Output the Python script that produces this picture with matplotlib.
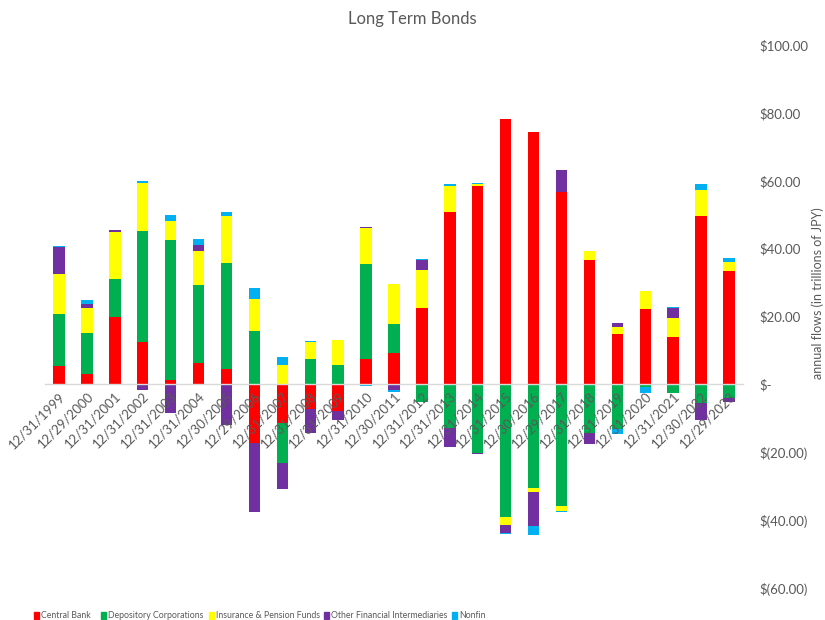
# Long Term Bonds - annual flows by holder (stacked bars)

import numpy as np
import matplotlib
matplotlib.use('Agg')
import matplotlib.pyplot as plt
from matplotlib.patches import Rectangle
from matplotlib.ticker import FuncFormatter, MultipleLocator

plt.rcParams['font.family'] = ['Lato', 'DejaVu Sans']

# Data
dates = ['12/31/1999', '12/29/2000', '12/31/2001', '12/31/2002', '12/31/2003',
         '12/31/2004', '12/30/2005', '12/29/2006', '12/31/2007', '12/31/2008',
         '12/31/2009', '12/31/2010', '12/30/2011', '12/31/2012', '12/31/2013',
         '12/31/2014', '12/31/2015', '12/30/2016', '12/29/2017', '12/31/2018',
         '12/31/2019', '12/31/2020', '12/31/2021', '12/30/2022', '12/29/2023']

central_bank = [5.3, 3.2, 19.8, 12.5, 1.2, 6.2, 4.6, -17.2, -11.4, -7.2, -7.7, 7.6, 9.2,
                22.6, 50.9, 58.6, 78.1, 74.4, 56.8, 36.6, 14.7, 22.2, 14.1, 49.6, 33.3]
depository = [15.3, 12.0, 11.3, 32.8, 41.2, 23.0, 31.2, 15.7, -11.7, 7.5, 5.7, 27.8, 8.5,
              -5.2, -13.0, -20.2, -39.1, -30.5, -35.9, -14.3, -13.2, -0.8, -2.6, -5.6, -4.1]
insurance = [12.0, 7.3, 13.8, 13.9, 5.8, 10.1, 13.7, 9.6, 5.7, 5.0, 7.3, 10.8, 12.0,
             11.0, 7.7, 0.5, -2.4, -1.2, -1.5, 2.8, 2.2, 5.4, 5.5, 7.8, 2.9]
other_fin = [7.9, 1.3, 0.7, -1.7, -8.5, 1.8, -12.0, -20.3, -7.8, -7.0, -2.7, 0.3, -1.7,
             3.1, -5.6, -0.3, -2.2, -10.1, 6.3, -3.4, 1.2, 0.0, 2.9, -4.8, -1.0]
nonfin = [0.3, 1.1, 0.0, 0.6, 1.8, 1.6, 1.3, 3.2, 2.3, 0.4, 0.2, -0.5, -0.5,
          0.3, 0.4, 0.3, -0.3, -2.7, -0.3, 0.0, -1.4, -1.8, 0.2, 1.6, 0.9]

names = ['Central Bank', 'Depository Corporations', 'Insurance & Pension Funds',
         'Other Financial Intermediaries', 'Nonfin']
colors = ['#FF0000', '#00B050', '#FFFF00', '#7030A0', '#00B0F0']
values = [central_bank, depository, insurance, other_fin, nonfin]

grey = '#595959'
W, H = 825, 620

fig = plt.figure(figsize=(W / 100, H / 100), dpi=100)
ax = fig.add_axes([45 / W, 32 / H, 698 / W, 543 / H])

x = np.arange(len(dates))
pos_bottom = np.zeros(len(dates))
neg_bottom = np.zeros(len(dates))
for name, vals, color in zip(names, values, colors):
    v = np.array(vals)
    bottom = np.where(v >= 0, pos_bottom, neg_bottom)
    ax.bar(x, v, width=0.41, bottom=bottom, color=color, label=name, zorder=1)
    pos_bottom += np.where(v > 0, v, 0)
    neg_bottom += np.where(v < 0, v, 0)

ax.set_xlim(-0.5, len(dates) - 0.5)
ax.set_ylim(-60, 100)

# axes styling
for s in ['top', 'left', 'right']:
    ax.spines[s].set_visible(False)
ax.spines['bottom'].set_position(('data', 0))
ax.spines['bottom'].set_color('#D9D9D9')
ax.spines['bottom'].set_linewidth(1.0)

ax.set_xticks(x)
ax.set_xticklabels(dates, rotation=45, ha='right', rotation_mode='anchor',
                   color=grey, fontsize=9.5)
ax.tick_params(axis='x', length=0, pad=4)

ax.yaxis.tick_right()
ax.yaxis.set_major_locator(MultipleLocator(20))


def money(v, _):
    if abs(v) < 1e-9:
        return '$-'
    if v < 0:
        return '$({:.2f})'.format(abs(v))
    return '${:.2f}'.format(v)


ax.yaxis.set_major_formatter(FuncFormatter(money))
ax.tick_params(axis='y', length=0, pad=12, labelcolor=grey, labelsize=9.5)

fig.text(818 / W, 1 - 293 / H, 'annual flows (in trillions of JPY)', rotation=90,
         ha='center', va='center', color=grey, fontsize=9)

fig.text(0.5, 1 - 19 / H, 'Long Term Bonds', ha='center', va='center',
         color=grey, fontsize=12)

# legend along the bottom, placed by hand (the original's text is very narrow)
legend_x = [34, 101, 209, 324, 452]
for lx, name, color in zip(legend_x, names, colors):
    fig.patches.append(Rectangle((lx / W, 1 - 619 / H), 5 / W, 7 / H,
                                 transform=fig.transFigure, color=color))
    fig.text((lx + 7) / W, 1 - 615 / H, name, ha='left', va='center',
             color=grey, fontsize=6.3)

fig.savefig('out.png', dpi=100)
